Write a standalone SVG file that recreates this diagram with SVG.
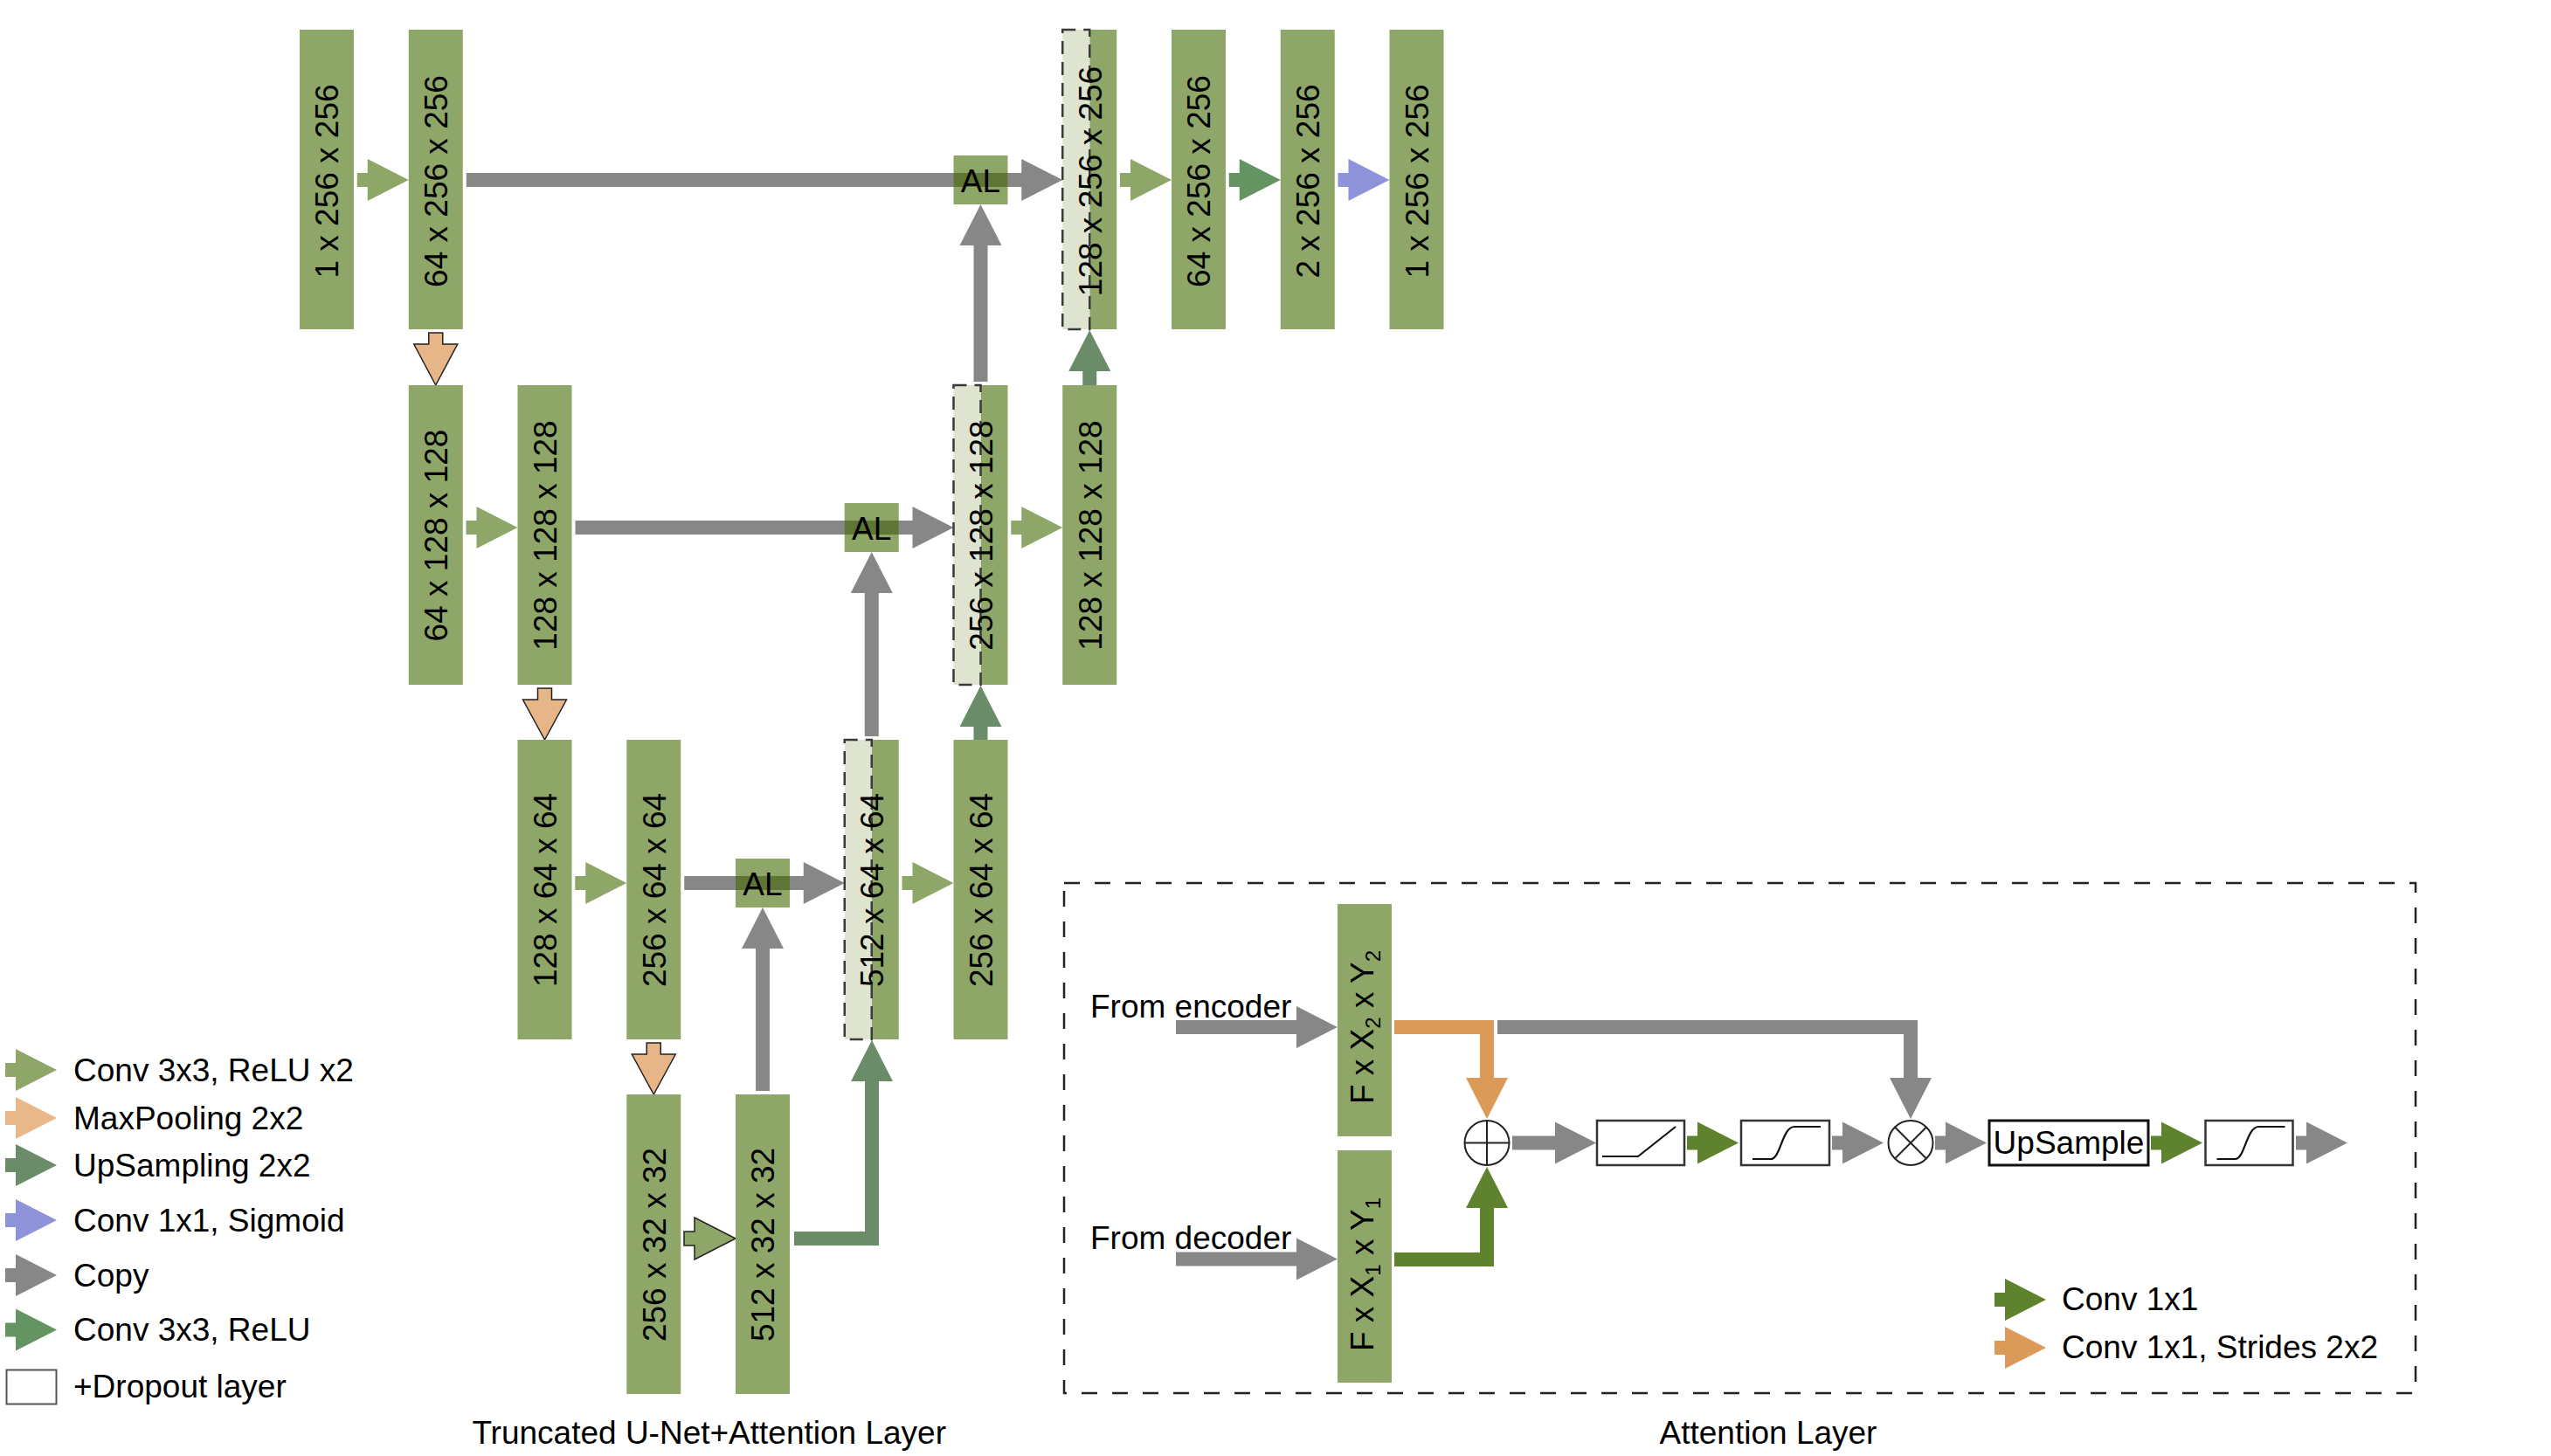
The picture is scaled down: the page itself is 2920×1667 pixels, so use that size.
<svg xmlns="http://www.w3.org/2000/svg" xmlns:xlink="http://www.w3.org/1999/xlink" width="2920" height="1667" viewBox="0 0 2920 1667">
<defs>
<style>
text{font-family:"Liberation Sans",Arial,sans-serif;font-size:37px;fill:#000}
.blk{fill:#8ea769}
.lt{fill:#dfe4d1;stroke:#3a3a3a;stroke-width:2.5;stroke-dasharray:15 9}
.ov{fill:#5e7536}
.g{fill:#878787}
.cv{fill:#8ea769}
.up{fill:#6b8c69}
.cr{fill:#659463}
.pu{fill:#8f94da}
.mp{fill:#e6b688;stroke:#222;stroke-width:1.5}
.mpl{fill:#e8b888}
.c1{fill:#5f822e}
.st{fill:#dc9a58}
.box{fill:#fff;stroke:#333;stroke-width:2.5}
.fn{fill:none;stroke:#111;stroke-width:2.2}
.ol{stroke:#222;stroke-width:1.5}
</style>
<path id="arr" d="M-59,-8 H-47 V-24 L0,0 L-47,24 V8 H-59 Z"/>
</defs>
<rect width="2920" height="1667" fill="#fff"/>

<g id="connectors">
<!-- conv 3x3 relu x2 -->
<use xlink:href="#arr" class="cv" transform="translate(467.75,206)"/>
<use xlink:href="#arr" class="cv" transform="translate(592.5,604)"/>
<use xlink:href="#arr" class="cv" transform="translate(717.25,1011)"/>
<use xlink:href="#arr" class="cv ol" transform="translate(842,1418)"/>
<use xlink:href="#arr" class="cv" transform="translate(1091.5,1011)"/>
<use xlink:href="#arr" class="cv" transform="translate(1216.25,604)"/>
<use xlink:href="#arr" class="cv" transform="translate(1341,206)"/>
<use xlink:href="#arr" class="cr" transform="translate(1465.75,206)"/>
<use xlink:href="#arr" class="pu" transform="translate(1590.5,206)"/>
<!-- maxpool -->
<polygon class="mp" points="490.75,381 506.75,381 506.75,394 523.75,394 498.75,441 473.75,394 490.75,394"/>
<polygon class="mp" points="615.5,788 631.5,788 631.5,801 648.5,801 623.5,847 598.5,801 615.5,801"/>
<polygon class="mp" points="740.25,1194 756.25,1194 756.25,1207 773.25,1207 748.25,1253 723.25,1207 740.25,1207"/>
<!-- copy -->
<polygon class="g" points="533.75,198 1169.25,198 1169.25,182 1216.25,206 1169.25,230 1169.25,214 533.75,214"/>
<polygon class="g" points="658.5,596 1044.5,596 1044.5,580 1091.5,604 1044.5,628 1044.5,612 658.5,612"/>
<polygon class="g" points="783.25,1003 919.75,1003 919.75,987 966.75,1011 919.75,1035 919.75,1019 783.25,1019"/>
<polygon class="g" points="1114.5,437 1114.5,281 1098.5,281 1122.5,234 1146.5,281 1130.5,281 1130.5,437"/>
<polygon class="g" points="989.75,843 989.75,679 973.75,679 997.75,632 1021.75,679 1005.75,679 1005.75,843"/>
<polygon class="g" points="865,1249 865,1086 849,1086 873,1039 897,1086 881,1086 881,1249"/>
<!-- upsampling -->
<polygon class="up" points="1239.25,441 1239.25,425 1223.25,425 1247.25,378 1271.25,425 1255.25,425 1255.25,441"/>
<polygon class="up" points="1114.5,847 1114.5,832 1098.5,832 1122.5,785 1146.5,832 1130.5,832 1130.5,847"/>
<polygon class="up" points="909,1410 990,1410 990,1238 974,1238 998,1191 1022,1238 1006,1238 1006,1426 909,1426"/>

<!-- attention layer connectors -->
<polygon class="g" points="1346,1168 1484,1168 1484,1152 1531,1176 1484,1200 1484,1184 1346,1184"/>
<polygon class="g" points="1346,1433.5 1484,1433.5 1484,1417.5 1531,1441.5 1484,1465.5 1484,1449.5 1346,1449.5"/>
<polygon class="st" points="1596,1168 1710,1168 1710,1234 1726,1234 1702,1281 1678,1234 1694,1234 1694,1184 1596,1184"/>
<polygon class="c1" points="1596,1450 1710,1450 1710,1383 1726,1383 1702,1336 1678,1383 1694,1383 1694,1434 1596,1434"/>
<polygon class="g" points="1714,1168 2195,1168 2195,1234 2211,1234 2187,1281 2163,1234 2179,1234 2179,1184 1714,1184"/>
<polygon class="g" points="1731,1300.5 1780,1300.5 1780,1284.5 1827,1308.5 1780,1332.5 1780,1316.5 1731,1316.5"/>
<use xlink:href="#arr" class="c1" transform="translate(1990,1308.5)"/>
<use xlink:href="#arr" class="g" transform="translate(2156,1308.5)"/>
<use xlink:href="#arr" class="g" transform="translate(2274,1308.5)"/>
<use xlink:href="#arr" class="c1" transform="translate(2521,1308.5)"/>
<use xlink:href="#arr" class="g" transform="translate(2687,1308.5)"/>
</g>

<!-- Row 1 -->
<g id="n_1x256_in"><rect class="blk" x="343" y="34" width="62" height="343"/><text transform="translate(387.3,207.5) rotate(-90)" text-anchor="middle">1 x 256 x 256</text></g>
<g id="n_64x256_a"><rect class="blk" x="467.75" y="34" width="62" height="343"/><text transform="translate(512,207.5) rotate(-90)" text-anchor="middle">64 x 256 x 256</text></g>
<g id="n_128x256_cat"><rect class="blk" x="1247.25" y="34" width="31" height="343"/><rect class="lt" x="1216.25" y="34" width="31" height="343"/><text transform="translate(1260.5,207.5) rotate(-90)" text-anchor="middle">128 x 256 x 256</text></g>
<g id="n_64x256_b"><rect class="blk" x="1341" y="34" width="62" height="343"/><text transform="translate(1385.3,207.5) rotate(-90)" text-anchor="middle">64 x 256 x 256</text></g>
<g id="n_2x256"><rect class="blk" x="1465.75" y="34" width="62" height="343"/><text transform="translate(1510,207.5) rotate(-90)" text-anchor="middle">2 x 256 x 256</text></g>
<g id="n_1x256_out"><rect class="blk" x="1590.5" y="34" width="62" height="343"/><text transform="translate(1634.8,207.5) rotate(-90)" text-anchor="middle">1 x 256 x 256</text></g>

<!-- Row 2 -->
<g id="n_64x128"><rect class="blk" x="467.75" y="441" width="62" height="343"/><text transform="translate(512,613) rotate(-90)" text-anchor="middle">64 x 128 x 128</text></g>
<g id="n_128x128_a"><rect class="blk" x="592.5" y="441" width="62" height="343"/><text transform="translate(636.8,613) rotate(-90)" text-anchor="middle">128 x 128 x 128</text></g>
<g id="n_256x128_cat"><rect class="blk" x="1122.5" y="441" width="31" height="343"/><rect class="lt" x="1091.5" y="441" width="31" height="343"/><text transform="translate(1135.8,613) rotate(-90)" text-anchor="middle">256 x 128 x 128</text></g>
<g id="n_128x128_b"><rect class="blk" x="1216.25" y="441" width="62" height="343"/><text transform="translate(1260.5,613) rotate(-90)" text-anchor="middle">128 x 128 x 128</text></g>

<!-- Row 3 -->
<g id="n_128x64"><rect class="blk" x="592.5" y="847" width="62" height="343"/><text transform="translate(636.8,1019) rotate(-90)" text-anchor="middle">128 x 64 x 64</text></g>
<g id="n_256x64_a"><rect class="blk" x="717.25" y="847" width="62" height="343"/><text transform="translate(761.5,1019) rotate(-90)" text-anchor="middle">256 x 64 x 64</text></g>
<g id="n_512x64_cat"><rect class="blk" x="997.75" y="847" width="31" height="343"/><rect class="lt" x="966.75" y="847" width="31" height="343"/><text transform="translate(1011,1019) rotate(-90)" text-anchor="middle">512 x 64 x 64</text></g>
<g id="n_256x64_b"><rect class="blk" x="1091.5" y="847" width="62" height="343"/><text transform="translate(1135.8,1019) rotate(-90)" text-anchor="middle">256 x 64 x 64</text></g>

<!-- Row 4 -->
<g id="n_256x32"><rect class="blk" x="717.25" y="1253" width="62" height="343"/><text transform="translate(761.5,1425) rotate(-90)" text-anchor="middle">256 x 32 x 32</text></g>
<g id="n_512x32"><rect class="blk" x="842" y="1253" width="62" height="343"/><text transform="translate(886.3,1425) rotate(-90)" text-anchor="middle">512 x 32 x 32</text></g>

<!-- Attention layer boxes -->
<g id="al_1"><rect class="blk" x="1091.5" y="178" width="62" height="56"/><rect class="ov" x="1091.5" y="198" width="62" height="16"/><text x="1122.5" y="219.5" text-anchor="middle">AL</text></g>
<g id="al_2"><rect class="blk" x="966.75" y="576" width="62" height="56"/><rect class="ov" x="966.75" y="596" width="62" height="16"/><text x="997.75" y="617.5" text-anchor="middle">AL</text></g>
<g id="al_3"><rect class="blk" x="842" y="983" width="62" height="56"/><rect class="ov" x="842" y="1003" width="62" height="16"/><text x="873" y="1024.5" text-anchor="middle">AL</text></g>

<!-- Legend -->
<g id="legend">
<use xlink:href="#arr" class="cv" transform="translate(65,1225)"/>
<text x="84" y="1237.5">Conv 3x3, ReLU x2</text>
<use xlink:href="#arr" class="mpl" transform="translate(65,1280)"/>
<text x="84" y="1292.5">MaxPooling 2x2</text>
<use xlink:href="#arr" class="up" transform="translate(65,1334)"/>
<text x="84" y="1347">UpSampling 2x2</text>
<use xlink:href="#arr" class="pu" transform="translate(65,1397)"/>
<text x="84" y="1410">Conv 1x1, Sigmoid</text>
<use xlink:href="#arr" class="g" transform="translate(65,1460)"/>
<text x="84" y="1473">Copy</text>
<use xlink:href="#arr" class="cr" transform="translate(65,1522.5)"/>
<text x="84" y="1535">Conv 3x3, ReLU</text>
<rect x="7.5" y="1568.5" width="57" height="39" fill="#fff" stroke="#555" stroke-width="2"/>
<text x="84" y="1600">+Dropout layer</text>
</g>

<text id="cap_unet" x="811.7" y="1653" text-anchor="middle">Truncated U-Net+Attention Layer</text>
<text id="cap_att" x="2024" y="1653" text-anchor="middle">Attention Layer</text>

<!-- Attention detail -->
<g id="att_frame"><rect x="1218" y="1011" width="1547" height="584" fill="none" stroke="#222" stroke-width="2.5" stroke-dasharray="18 17"/></g>
<g id="att_enc_label"><text x="1248" y="1164.5">From encoder</text></g>
<g id="att_dec_label"><text x="1248" y="1430">From decoder</text></g>
<g id="att_x2"><rect class="blk" x="1531" y="1035" width="62" height="266"/><text transform="translate(1571.5,1176) rotate(-90)" text-anchor="middle">F x X<tspan font-size="24" dy="8">2</tspan><tspan dy="-8"> x Y</tspan><tspan font-size="24" dy="8">2</tspan></text></g>
<g id="att_x1"><rect class="blk" x="1531" y="1317" width="62" height="266"/><text transform="translate(1571.5,1459) rotate(-90)" text-anchor="middle">F x X<tspan font-size="24" dy="8">1</tspan><tspan dy="-8"> x Y</tspan><tspan font-size="24" dy="8">1</tspan></text></g>
<g id="att_add"><circle cx="1702" cy="1308.5" r="25.5" fill="#fff" stroke="#222" stroke-width="2"/><path d="M1676.5,1308.5 H1727.5 M1702,1283 V1334" stroke="#222" stroke-width="2"/></g>
<g id="att_relu"><rect class="box" x="1828" y="1283" width="100" height="51"/><path class="fn" d="M1834,1324 H1875 L1918,1290"/></g>
<g id="att_sig1"><rect class="box" x="1993" y="1283" width="101" height="51"/><path class="fn" d="M2006,1327 H2027 C2038,1327 2040,1290 2054,1290 H2084"/></g>
<g id="att_mul"><circle cx="2187" cy="1308.5" r="25.5" fill="#fff" stroke="#222" stroke-width="2"/><path d="M2169,1290.5 L2205,1326.5 M2205,1290.5 L2169,1326.5" stroke="#222" stroke-width="2"/></g>
<g id="att_upsample"><rect x="2277" y="1283" width="182" height="51" fill="#fff" stroke="#111" stroke-width="3"/><text x="2368" y="1321" text-anchor="middle">UpSample</text></g>
<g id="att_sig2"><rect class="box" x="2524.5" y="1283" width="100" height="51"/><path class="fn" d="M2537.5,1327 H2558.5 C2569.5,1327 2571.5,1290 2585.5,1290 H2615.5"/></g>
<g id="att_legend">
<use xlink:href="#arr" class="c1" transform="translate(2342,1488)"/>
<text x="2360" y="1500">Conv 1x1</text>
<use xlink:href="#arr" class="st" transform="translate(2342,1543)"/>
<text x="2360" y="1555">Conv 1x1, Strides 2x2</text>
</g>
</svg>
